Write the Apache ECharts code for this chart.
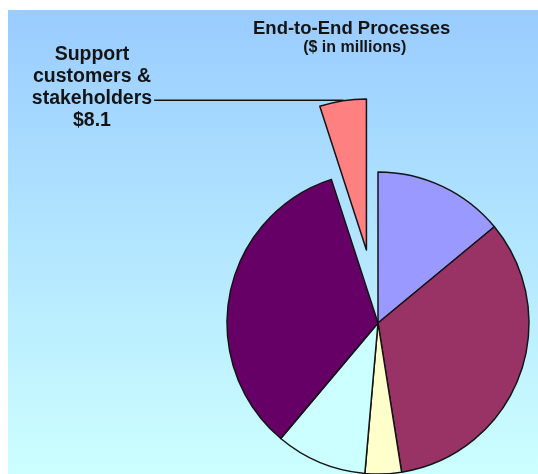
<!DOCTYPE html>
<html>
<head>
<meta charset="utf-8">
<script src="https://cdn.jsdelivr.net/npm/echarts@6/dist/echarts.min.js"></script>
<style>
  html, body { margin: 0; padding: 0; background: #fff; width: 538px; height: 474px; overflow: hidden; }
  #chart { position: absolute; left: 8px; top: 10px; width: 530px; height: 464px; }
</style>
</head>
<body>
<div id="chart"></div>
<script>
// Spending by end-to-end process, $ millions (clockwise from 12 o'clock)
const categories = ['Process 1', 'Process 2', 'Process 3', 'Process 4', 'Process 5',
                    'Support\ncustomers &\nstakeholders'];
const values = [22.7, 54.3, 6.3, 15.8, 54.9, 8.1];
const highlightedIndex = 5; // the exploded, labelled slice

const sliceColors = ['#9999FF', '#993366', '#FFFFCC', '#CCFFFF', '#660066', '#FF8080'];
const titleText = 'End-to-End Processes';
const subtitleText = '($ in millions)';

const fontFamily = '"Liberation Sans", Arial, Helvetica, sans-serif';
const ink = '#141414';

const chart = echarts.init(document.getElementById('chart'), null, { renderer: 'canvas' });

const data = categories.map((name, i) => ({
  name: name,
  value: values[i],
  selected: i === highlightedIndex,
  itemStyle: { color: sliceColors[i] },
  label: { show: i === highlightedIndex },
  labelLine: { show: i === highlightedIndex }
}));

chart.setOption({
  animation: false,
  backgroundColor: {
    type: 'linear', x: 0, y: 0, x2: 0, y2: 1,
    colorStops: [
      { offset: 0, color: '#99CCFF' },
      { offset: 1, color: '#CCFFFF' }
    ]
  },
  graphic: [
    {
      type: 'text', x: 343.7, y: 18.8,
      style: { text: titleText, align: 'center', verticalAlign: 'middle',
               font: 'bold 18.5px ' + fontFamily, fill: ink }
    },
    {
      type: 'text', x: 346.7, y: 37.2,
      style: { text: subtitleText, align: 'center', verticalAlign: 'middle',
               font: 'bold 16px ' + fontFamily, fill: ink }
    }
  ],
  series: [{
    type: 'pie',
    center: [370, 313],
    radius: 151,
    startAngle: 90,
    clockwise: true,
    selectedMode: 'single',
    selectedOffset: 74,
    avoidLabelOverlap: false,
    data: data,
    itemStyle: { borderColor: ink, borderWidth: 1.5 },
    select: { itemStyle: { borderColor: ink, borderWidth: 1.5 } },
    emphasis: { disabled: true },
    label: {
      position: 'outside',
      formatter: p => [...p.name.split('\n'), '$' + p.value.toFixed(1)]
        .map(s => '{c|' + s + '}').join('\n'),
      fontFamily: fontFamily, fontWeight: 'bold', fontSize: 19.5, lineHeight: 22, color: ink,
      rich: {
        c: { align: 'center', fontFamily: fontFamily, fontWeight: 'bold',
             fontSize: 19.5, lineHeight: 22, color: ink }
      },
      padding: [0, 0, 26, 0],
      distanceToLabelLine: 2,
      edgeDistance: 0
    },
    labelLine: {
      length: 0.5,
      length2: 188.6,
      lineStyle: { color: ink, width: 1.6 }
    }
  }]
});
</script>
</body>
</html>
